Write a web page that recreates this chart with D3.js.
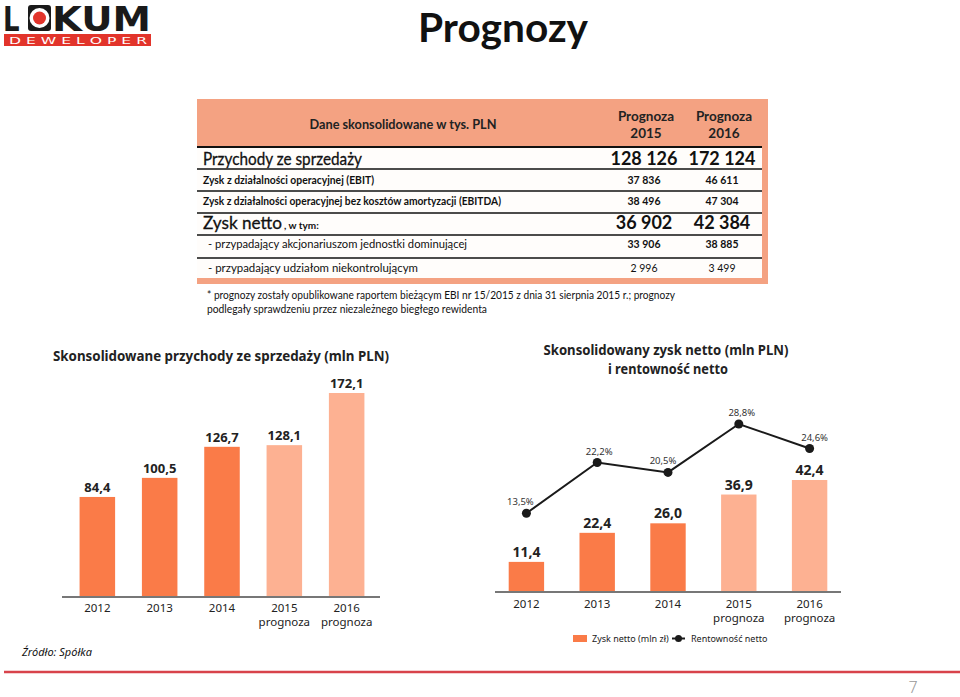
<!DOCTYPE html>
<html><head><meta charset="utf-8">
<script src="https://cdn.jsdelivr.net/npm/d3@7/dist/d3.min.js"></script>
<style>body{margin:0;background:#fff}svg{display:block}</style>
</head><body>
<svg id="c" width="960" height="697"></svg>
<script>
// ---------- data ----------
const years = ["2012","2013","2014","2015","2016"];
const yearSub = ["","","","prognoza","prognoza"];
const forecast = [false,false,false,true,true];
const revenue = [84.4,100.5,126.7,128.1,172.1];
const netProfit = [11.4,22.4,26.0,36.9,42.4];
const netMargin = [13.5,22.2,20.5,28.8,24.6];

const tableHeader = "Dane skonsolidowane w tys. PLN";
const tableCols = ["Prognoza 2015","Prognoza 2016"];
const tableRows = [
  "Przychody ze sprzedaży",
  "Zysk z działalności operacyjnej (EBIT)",
  "Zysk z działalności operacyjnej bez kosztów amortyzacji (EBITDA)",
  "Zysk netto",
  "- przypadający akcjonariuszom jednostki dominującej",
  "- przypadający udziałom niekontrolującym"
];
const tableVal2015 = ["128 126","37 836","38 496","36 902","33 906","2 996"];
const tableVal2016 = ["172 124","46 611","47 304","42 384","38 885","3 499"];

const footnote = ["* prognozy zostały opublikowane raportem bieżącym EBI nr 15/2015 z dnia 31 sierpnia 2015 r.; prognozy",
                  "podlegały sprawdzeniu przez niezależnego biegłego rewidenta"];

// ---------- styles ----------
const C_DARK = "#FA7B48", C_LIGHT = "#FDB192", C_HEAD = "#F4A282", C_RED = "#D8434B";
const F_CAL = "Lato, 'Open Sans', sans-serif";
const F_MYR = "'Noto Sans', 'Open Sans', sans-serif";

const svg = d3.select("#c");
function fit(sel, w){ sel.attr("textLength", w).attr("lengthAdjust","spacingAndGlyphs"); return sel; }

// ---------- logo ----------
const logo = svg.append("g");
logo.append("rect").attr("x",4).attr("y",34).attr("width",147).attr("height",12).attr("fill","#E2342B");
fit(logo.append("text").attr("x",9).attr("y",43.5).attr("font-family","'DejaVu Sans', sans-serif")
  .attr("font-size",9).attr("fill","#fff").text("D E W E L O P E R"),138);
logo.append("text").attr("x",3).attr("y",31).attr("font-family","'DejaVu Sans', sans-serif").attr("font-weight","bold")
  .attr("font-size",26).attr("transform","translate(3,31) scale(1,1.3) translate(-3,-31)").attr("fill","#1a1a1a").text("L");
logo.append("rect").attr("x",28).attr("y",5).attr("width",23).attr("height",26).attr("rx",3).attr("fill","#1a1a1a");
logo.append("circle").attr("cx",39.5).attr("cy",18).attr("r",10).attr("fill","#fff");
logo.append("circle").attr("cx",39.5).attr("cy",18).attr("r",6.5).attr("fill","#E2342B");
fit(logo.append("text").attr("x",52).attr("y",31).attr("font-family","'DejaVu Sans', sans-serif").attr("font-weight","bold")
  .attr("font-size",26).attr("transform","translate(52,31) scale(1,1.3) translate(-52,-31)").attr("fill","#1a1a1a").text("KUM"),99);

// ---------- title ----------
fit(svg.append("text").attr("x",503).attr("y",42).attr("text-anchor","middle").attr("font-family",F_CAL)
  .attr("font-weight","bold").attr("font-size",40).attr("fill","#111").text("Prognozy"),170);

// ---------- table ----------
const T = svg.append("g");
T.append("rect").attr("x",197).attr("y",99).attr("width",571).attr("height",185).attr("fill","#fffdfb");
T.append("rect").attr("x",197).attr("y",99).attr("width",571).attr("height",48).attr("fill",C_HEAD);
T.append("rect").attr("x",762).attr("y",99).attr("width",6).attr("height",185).attr("fill",C_HEAD);
T.append("rect").attr("x",197).attr("y",278).attr("width",571).attr("height",6).attr("fill",C_HEAD);
fit(T.append("text").attr("x",403).attr("y",129).attr("text-anchor","middle").attr("font-family",F_CAL)
  .attr("font-weight","bold").attr("font-size",13).attr("fill","#222").text(tableHeader),187);
const colX = [646,724];
tableCols.forEach((c,i)=>{
  const p = c.split(" ");
  T.append("text").attr("x",colX[i]).attr("y",121).attr("text-anchor","middle").attr("font-family",F_CAL)
    .attr("font-weight","bold").attr("font-size",13.5).attr("fill","#222").text(p[0]);
  T.append("text").attr("x",colX[i]).attr("y",138).attr("text-anchor","middle").attr("font-family",F_CAL)
    .attr("font-weight","bold").attr("font-size",13.5).attr("fill","#222").text(p[1]);
});
const lineY = [147,169,191,213,235,258];
lineY.forEach((y,i)=>T.append("line").attr("x1",197).attr("x2",762).attr("y1",y).attr("y2",y)
  .attr("stroke","#111").attr("stroke-width", i===0?2:1.5));
const rowY = [165,184,205,229,248,272];
const rowSpec = [
  {size:18, w:"normal", x:203, tw:159, vsize:18, vw:"bold"},
  {size:10.5, w:"bold", x:203, tw:171, vsize:10.5, vw:"bold"},
  {size:10.5, w:"bold", x:203, tw:298, vsize:10.5, vw:"bold"},
  {size:18, w:"normal", x:203, tw:79, vsize:18, vw:"bold"},
  {size:11, w:"normal", x:208, tw:259, vsize:10.5, vw:"bold"},
  {size:11, w:"normal", x:208, tw:210, vsize:10.5, vw:"normal"}
];
tableRows.forEach((r,i)=>{
  const s = rowSpec[i];
  fit(T.append("text").attr("x",s.x).attr("y",rowY[i]).attr("font-family",F_CAL).attr("font-weight",s.w)
    .attr("font-size",s.size).attr("fill","#111").attr("stroke", s.size>15?"#111":"none").attr("stroke-width",0.3).text(r), s.tw);
  [tableVal2015[i], tableVal2016[i]].forEach((v,j)=>{
    T.append("text").attr("x",colX[j]-2).attr("y",rowY[i]).attr("text-anchor","middle").attr("font-family",F_CAL)
      .attr("font-weight",s.vw).attr("font-size",s.vsize).attr("fill","#111").text(v);
  });
});
T.append("text").attr("x",284).attr("y",229).attr("font-family",F_CAL).attr("font-weight","bold")
  .attr("font-size",10).attr("fill","#111").text(", w tym:");

// footnote
fit(svg.append("text").attr("x",207).attr("y",299).attr("font-family",F_CAL).attr("font-size",11).attr("fill","#111").text(footnote[0]),468);
fit(svg.append("text").attr("x",207).attr("y",313).attr("font-family",F_CAL).attr("font-size",11).attr("fill","#111").text(footnote[1]),280);

// ---------- left chart: revenue ----------
const L = svg.append("g");
fit(L.append("text").attr("x",221).attr("y",361).attr("text-anchor","middle").attr("font-family",F_MYR)
  .attr("font-weight","bold").attr("font-size",15).attr("fill","#222").text("Skonsolidowane przychody ze sprzedaży (mln PLN)"),336);
const xL = d3.scaleBand().domain(years).range([64,380]).paddingInner(0.43).paddingOuter(0.25);
const yL = d3.scaleLinear().domain([0,172.1]).range([597,393]);
L.selectAll("rect.bar").data(revenue).join("rect").attr("class","bar")
  .attr("x",(d,i)=>xL(years[i])).attr("width",xL.bandwidth())
  .attr("y",d=>yL(d)).attr("height",d=>yL(0)-yL(d))
  .attr("fill",(d,i)=>forecast[i]?C_LIGHT:C_DARK);
L.selectAll("text.val").data(revenue).join("text").attr("class","val")
  .attr("x",(d,i)=>xL(years[i])+xL.bandwidth()/2).attr("y",d=>yL(d)-5)
  .attr("text-anchor","middle").attr("font-family",F_MYR).attr("font-weight","bold").attr("font-size",13).attr("fill","#222")
  .text(d=>d3.format(".1f")(d).replace(".",","));
const axL = L.append("g").attr("transform","translate(0,597)").call(d3.axisBottom(xL).tickSize(0).tickFormat(""));
axL.select(".domain").attr("stroke","#777").attr("stroke-width",2).attr("d","M62,0H380");
years.forEach((y,i)=>{
  const cx = xL(y)+xL.bandwidth()/2;
  L.append("text").attr("x",cx).attr("y",612).attr("text-anchor","middle").attr("font-family",F_MYR).attr("font-size",11.5).attr("fill","#222").text(y);
  if(yearSub[i]) L.append("text").attr("x",cx).attr("y",626).attr("text-anchor","middle").attr("font-family",F_MYR).attr("font-size",11.5).attr("fill","#222").text(yearSub[i]);
});

// ---------- right chart: net profit + margin ----------
const R = svg.append("g");
fit(R.append("text").attr("x",666).attr("y",355).attr("text-anchor","middle").attr("font-family",F_MYR)
  .attr("font-weight","bold").attr("font-size",14).attr("fill","#222").text("Skonsolidowany zysk netto (mln PLN)"),245);
fit(R.append("text").attr("x",668).attr("y",374).attr("text-anchor","middle").attr("font-family",F_MYR)
  .attr("font-weight","bold").attr("font-size",14).attr("fill","#222").text("i rentowność netto"),120);
const xR = d3.scaleBand().domain(years).range([491,845]).paddingInner(0.5).paddingOuter(0.25);
const yR = d3.scaleLinear().domain([0,42.4]).range([592,480]);
const yP = d3.scaleLinear().domain([0,28.8]).range([592,424]);
R.selectAll("rect.bar").data(netProfit).join("rect").attr("class","bar")
  .attr("x",(d,i)=>xR(years[i])).attr("width",xR.bandwidth())
  .attr("y",d=>yR(d)).attr("height",d=>yR(0)-yR(d))
  .attr("fill",(d,i)=>forecast[i]?C_LIGHT:C_DARK);
R.selectAll("text.val").data(netProfit).join("text").attr("class","val")
  .attr("x",(d,i)=>xR(years[i])+xR.bandwidth()/2).attr("y",d=>yR(d)-5)
  .attr("text-anchor","middle").attr("font-family",F_MYR).attr("font-weight","bold").attr("font-size",14).attr("fill","#222")
  .text(d=>d3.format(".1f")(d).replace(".",","));
const cxR = (d,i)=>xR(years[i])+xR.bandwidth()/2;
R.append("path").datum(netMargin).attr("fill","none").attr("stroke","#1a1a1a").attr("stroke-width",2)
  .attr("d",d3.line().x(cxR).y(d=>yP(d)));
R.selectAll("circle.pt").data(netMargin).join("circle").attr("class","pt")
  .attr("cx",cxR).attr("cy",d=>yP(d)).attr("r",4.5).attr("fill","#1a1a1a");
const pctDx = [-6,2,-5,3,5];
R.selectAll("text.pct").data(netMargin).join("text").attr("class","pct")
  .attr("x",(d,i)=>cxR(d,i)+pctDx[i]).attr("y",d=>yP(d)-8)
  .attr("text-anchor","middle").attr("font-family",F_MYR).attr("font-size",9.5).attr("fill","#333")
  .text(d=>d3.format(".1f")(d).replace(".",",")+"%");
const axR = R.append("g").attr("transform","translate(0,592)").call(d3.axisBottom(xR).tickSize(0).tickFormat(""));
axR.select(".domain").attr("stroke","#777").attr("stroke-width",2).attr("d","M495,0H841");
years.forEach((y,i)=>{
  const cx = xR(y)+xR.bandwidth()/2;
  R.append("text").attr("x",cx).attr("y",608).attr("text-anchor","middle").attr("font-family",F_MYR).attr("font-size",11.5).attr("fill","#222").text(y);
  if(yearSub[i]) R.append("text").attr("x",cx).attr("y",622).attr("text-anchor","middle").attr("font-family",F_MYR).attr("font-size",11.5).attr("fill","#222").text(yearSub[i]);
});
// legend
R.append("rect").attr("x",573).attr("y",635).attr("width",14).attr("height",7).attr("fill",C_DARK);
R.append("text").attr("x",592).attr("y",641.5).attr("font-family",F_MYR).attr("font-size",9).attr("fill","#222").text("Zysk netto (mln zł)");
R.append("line").attr("x1",672).attr("x2",685).attr("y1",638.5).attr("y2",638.5).attr("stroke","#1a1a1a").attr("stroke-width",2);
R.append("circle").attr("cx",678.5).attr("cy",638.5).attr("r",3.5).attr("fill","#1a1a1a");
R.append("text").attr("x",691).attr("y",641.5).attr("font-family",F_MYR).attr("font-size",9).attr("fill","#222").text("Rentowność netto");

// ---------- footer ----------
svg.append("text").attr("x",22).attr("y",656).attr("font-family",F_MYR).attr("font-style","italic").attr("font-size",11).attr("fill","#111").text("Źródło: Spółka");
svg.append("line").attr("x1",4).attr("x2",960).attr("y1",672).attr("y2",672).attr("stroke",C_RED).attr("stroke-width",2.5);
svg.append("text").attr("x",913).attr("y",693).attr("text-anchor","middle").attr("font-family",F_MYR).attr("font-weight",300).attr("font-size",16).attr("fill","#999").text("7");
</script>
</body></html>
